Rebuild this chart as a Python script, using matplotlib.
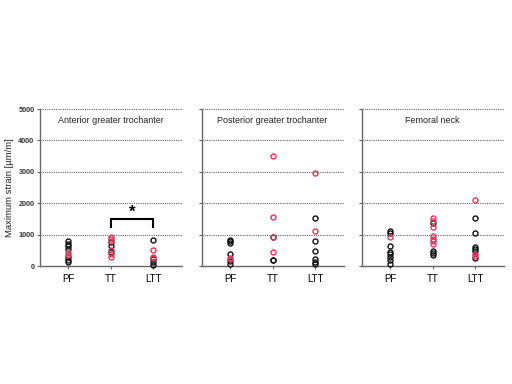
import matplotlib
matplotlib.use("Agg")
import matplotlib.pyplot as plt

plt.rcParams['font.family'] = ['Liberation Sans', 'DejaVu Sans']

categories = ["PF", "TT", "LTT"]
titles = ["Anterior greater trochanter", "Posterior greater trochanter", "Femoral neck"]
yticks = [0, 1000, 2000, 3000, 4000, 5000]
RED = "#d93a5c"
BLK = "#111111"

# Each panel: {category: (black values, red values)}
anterior = {
    "PF": ([810, 720, 650, 550, 285, 210, 130], [425, 360]),
    "TT": ([780, 630, 450], [930, 870, 820, 520, 380, 300]),
    "LTT": ([830, 225, 150, 40], [510, 310, 255]),
}
posterior = {
    "PF": ([850, 800, 730, 400, 170, 75], [275, 220]),
    "TT": ([210, 190, 935], [3520, 1580, 935, 445]),
    "LTT": ([1520, 800, 500, 235, 150, 75], [2950, 1125]),
}
neck = {
    "PF": ([1125, 1050, 660, 470, 380, 290, 200, 75], [945]),
    "TT": ([1370, 500, 415, 350], [1520, 1445, 1265, 970, 880, 810, 710]),
    "LTT": ([1550, 1050, 625, 550, 490, 275], [2110, 380, 330]),
}
panels = [anterior, posterior, neck]

# significance bracket (panel 1, TT vs LTT)
bracket_y = 1500
bracket_drop = 1250
star_y = 1470

fig = plt.figure(figsize=(5.12, 3.84), dpi=100)
lefts = [40 / 512, 202 / 512, 362 / 512]
width = 142 / 512
bottom = 1 - 266.3 / 384
height = (266.3 - 109) / 384

for i, (data, title) in enumerate(zip(panels, titles)):
    ax = fig.add_axes([lefts[i], bottom, width, height])
    for xi, cat in enumerate(categories):
        blk, red = data[cat]
        ax.plot([xi] * len(blk), blk, 'o', ms=3.6, mfc='none', mec=BLK, mew=1.0, clip_on=False, zorder=3)
        ax.plot([xi] * len(red), red, 'o', ms=3.6, mfc='none', mec=RED, mew=1.0, clip_on=False, zorder=4)
    ax.set_xlim(-0.66, 2.68)
    ax.set_ylim(0, 5000)
    ax.set_yticks(yticks)
    for y in yticks[1:]:
        ax.axhline(y, color='#666666', lw=0.8, ls=(0, (1, 1)), zorder=1)
    ax.set_xticks(range(len(categories)))
    ax.set_xticklabels(categories, fontsize=7)
    if i == 0:
        ax.set_yticklabels([str(v) for v in yticks], fontsize=5.2, fontweight='bold', color='#333333')
        ax.set_ylabel("Maximum strain [µm/m]", fontsize=6.8, color='#222222', labelpad=3)
    else:
        ax.set_yticklabels([])
    ax.spines['top'].set_visible(False)
    ax.spines['right'].set_visible(False)
    for s in ['left', 'bottom']:
        ax.spines[s].set_color('#666666')
        ax.spines[s].set_linewidth(1.0)
    ax.tick_params(axis='both', length=2.5, width=0.8, color='#666666', pad=1.5)
    ax.tick_params(axis='x', pad=3)
    ax.text(1.0, 4620, title, ha='center', va='center', fontsize=6.5, color='#222222')
    if i == 0:
        ax.plot([1, 1, 2, 2], [bracket_drop, bracket_y, bracket_y, bracket_drop], color='black', lw=1.5, solid_joinstyle='miter')
        ax.text(1.5, star_y, "*", ha='center', va='bottom', fontsize=12, fontweight='bold')

fig.savefig("out.png", dpi=100)
